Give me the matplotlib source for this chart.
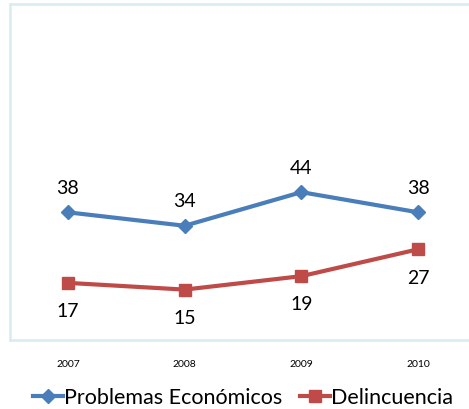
import matplotlib
matplotlib.use("Agg")
import matplotlib.pyplot as plt

years = ["2007", "2008", "2009", "2010"]
economicos = [38, 34, 44, 38]
delincuencia = [17, 15, 19, 27]

plt.rcParams['font.family'] = ['Lato', 'DejaVu Sans']

fig = plt.figure(figsize=(4.69, 4.10), dpi=100)
# plot area runs past the right edge, as in the original
ax = fig.add_axes([9.5 / 469, 69 / 410, 467 / 469, 336 / 410])

x = list(range(len(years)))
ax.plot(x, economicos, color='#4a7ebb', lw=3, marker='D', ms=7,
        label='Problemas Económicos')
ax.plot(x, delincuencia, color='#be4b48', lw=3, marker='s', ms=9,
        label='Delincuencia')

for xi, v in zip(x, economicos):
    ax.annotate(str(v), (xi, v), xytext=(0, 18), textcoords='offset points',
                ha='center', va='center', fontsize=14)
for xi, v in zip(x, delincuencia):
    ax.annotate(str(v), (xi, v), xytext=(0, -20), textcoords='offset points',
                ha='center', va='center', fontsize=14)

ax.set_xlim(-0.5, 3.5)
ax.set_ylim(0, 100)
ax.set_yticks([])
ax.set_xticks(x)
ax.set_xticklabels(years, fontsize=7.5)
ax.tick_params(axis='x', length=0, pad=14)
for s in ax.spines.values():
    s.set_color('#d8ecf0')
    s.set_linewidth(1.8)

ax.legend(loc='upper center', bbox_to_anchor=(0.5, -0.115), ncol=2,
          frameon=False, fontsize=15.5, handlelength=1.4, handletextpad=0.05,
          columnspacing=0.8, borderaxespad=0)

fig.savefig('out.png', dpi=100)
